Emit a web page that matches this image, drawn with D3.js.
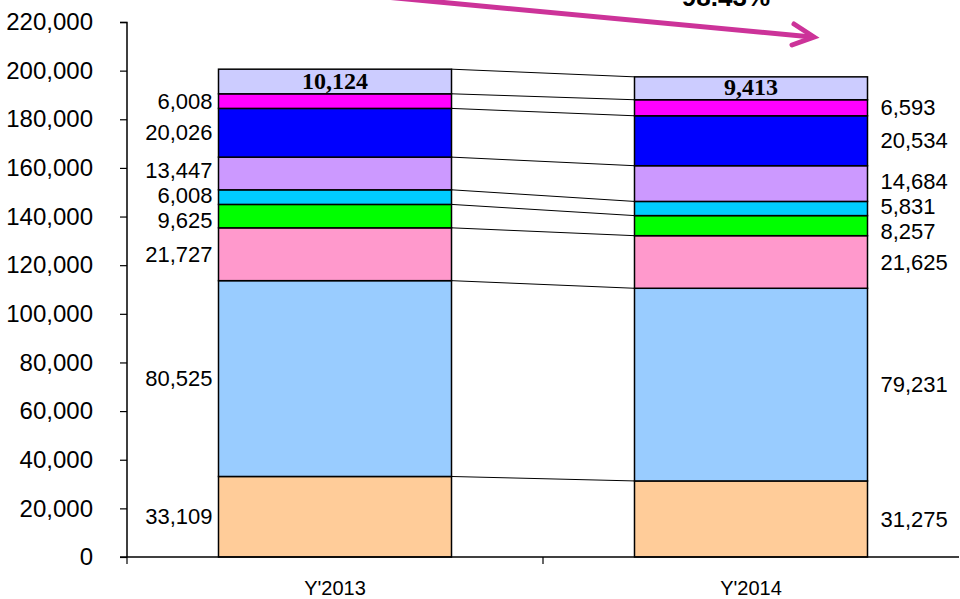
<!DOCTYPE html>
<html><head><meta charset="utf-8">
<script src="https://cdn.jsdelivr.net/npm/d3@7"></script>
<style>body{margin:0;background:#fff}svg{display:block;font-family:Arial,"Liberation Sans",sans-serif}</style>
</head><body><svg id="c" width="960" height="599"></svg>
<script>
const categories = ["Y'2013", "Y'2014"];
const seriesNames = ["s1","s2","s3","s4","s5","s6","s7","s8","s9"];
const values2013 = [33109, 80525, 21727, 9625, 6008, 13447, 20026, 6008, 10124];
const values2014 = [31275, 79231, 21625, 8257, 5831, 14684, 20534, 6593, 9413];
const colors = ["#FFCC99","#99CCFF","#FF99CC","#00FF00","#00CCFF","#CC99FF","#0000FF","#FF00FF","#CCCCFF"];
const yTicks = [0,20000,40000,60000,80000,100000,120000,140000,160000,180000,200000,220000];
const changeText = "98.43%";

const svg = d3.select("#c");
const x = d3.scaleBand().domain(categories).range([127, 959]).paddingInner(0).paddingOuter(0);
const y = d3.scaleLinear().domain([0, 220000]).range([557, 22]);
const barW = 233;
const fmt = d3.format(",");

const data = [values2013, values2014].map((vals, ci) => {
  let acc = 0;
  return vals.map((v, si) => { const y0 = acc; acc += v; return {cat: categories[ci], si, v, y0, y1: acc}; });
});

const g = svg.append("g");
const xR = x(categories[0]) + x.bandwidth()/2 + barW/2;
const xL = x(categories[1]) + x.bandwidth()/2 - barW/2;
data[0].forEach((d, si) => {
  const e = data[1][si];
  g.append("line").attr("x1", xR).attr("x2", xL)
    .attr("y1", y(d.y1)).attr("y2", y(e.y1))
    .attr("stroke", "#000").attr("stroke-width", 1);
});

data.forEach((arr, ci) => {
  const cx = x(categories[ci]) + x.bandwidth()/2;
  g.selectAll(null).data(arr).enter().append("rect")
    .attr("x", cx - barW/2).attr("width", barW)
    .attr("y", d => y(d.y1)).attr("height", d => y(d.y0) - y(d.y1))
    .attr("fill", d => colors[d.si]).attr("stroke", "#000").attr("stroke-width", 1.5);
});

const ya = svg.append("g").attr("transform", "translate(127,0)")
  .call(d3.axisLeft(y).tickValues(yTicks).tickFormat(fmt).tickSize(7).tickPadding(27));
ya.select(".domain").attr("stroke","#000").attr("stroke-width",1.5).attr("d","M-7,22.5H0V557");
ya.selectAll(".tick line").attr("stroke","#000").attr("stroke-width",1.2);
ya.selectAll("text").attr("font-size", 24).attr("font-family","Arial, 'Liberation Sans', sans-serif").attr("fill","#000");

const xa = svg.append("g").attr("transform", "translate(0,557)");
xa.append("line").attr("x1",120).attr("x2",959).attr("y1",0).attr("y2",0).attr("stroke","#000").attr("stroke-width",1.5);
[127, x(categories[1])].forEach(t => xa.append("line").attr("x1",t).attr("x2",t).attr("y1",0).attr("y2",7).attr("stroke","#000").attr("stroke-width",1.2));
categories.forEach(c => xa.append("text").attr("x", x(c)+x.bandwidth()/2).attr("y", 38)
  .attr("text-anchor","middle").attr("font-size",20).text(c));

function place(arr) {
  const pos = arr.slice(0, 8).map(d => (y(d.y0)+y(d.y1))/2);
  for (let it=0; it<60; it++) {
    for (let i=1;i<pos.length;i++) {
      const gap = pos[i-1] - pos[i];
      if (gap < 25) { const m = (25-gap)/2; pos[i-1]+=m; pos[i]-=m; }
    }
  }
  return pos;
}
data.forEach((arr, ci) => {
  const cx = x(categories[ci]) + x.bandwidth()/2;
  const pos = place(arr);
  arr.slice(0,8).forEach((d,i) => {
    svg.append("text")
      .attr("x", ci === 0 ? cx - barW/2 - 6 : cx + barW/2 + 13)
      .attr("y", pos[i]).attr("dy","0.35em")
      .attr("text-anchor", ci === 0 ? "end" : "start")
      .attr("font-size", 22).text(fmt(d.v));
  });
  const top = arr[8];
  svg.append("text").attr("x", cx).attr("y", (y(top.y0)+y(top.y1))/2).attr("dy","0.3em")
    .attr("text-anchor","middle").attr("font-family","'Times New Roman','Liberation Serif',serif")
    .attr("font-weight","bold").attr("font-size",24).text(fmt(top.v));
});

svg.append("text").attr("x", 770).attr("y", 6).attr("text-anchor","end")
  .attr("font-weight","bold").attr("font-size",26).text(changeText);
const ac = "#CC3399";
svg.append("line").attr("x1",300).attr("y1",-11).attr("x2",812).attr("y2",37)
  .attr("stroke",ac).attr("stroke-width",5).attr("stroke-linecap","round");
svg.append("path").attr("d","M794,24 L814,37 L792,45")
  .attr("fill","none").attr("stroke",ac).attr("stroke-width",5)
  .attr("stroke-linecap","round").attr("stroke-linejoin","miter");
</script></body></html>
